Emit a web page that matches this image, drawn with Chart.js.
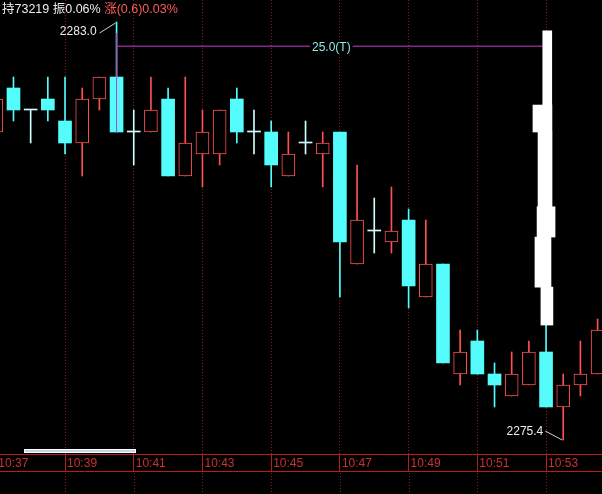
<!DOCTYPE html>
<html><head><meta charset="utf-8">
<script src="https://cdn.jsdelivr.net/npm/chart.js@4"></script>
<style>
html,body{margin:0;padding:0;background:#000;}
#wrap{position:relative;width:602px;height:494px;overflow:hidden;background:#000;}
#hdr{position:absolute;left:2px;top:1px;font:12.5px "Liberation Sans","Noto Sans CJK SC",sans-serif;color:#ececec;white-space:pre;line-height:16px;}
#hdr span{color:#ff5a5a;}
</style></head><body>
<div id="wrap"><canvas id="c" width="602" height="494"></canvas>
<div id="hdr">持73219 振0.06% <span>涨(0.6)0.03%</span></div>
</div>
<script>
// ---- data ----
const tickBars   = [0, 4, 8, 12, 16, 20, 24, 28, 32];
const tickLabels = ['10:37','10:39','10:41','10:43','10:45','10:47','10:49','10:51','10:53'];
const opens  = [2281.0,2281.8,2281.4,2281.6,2281.2,2280.8,2281.6,2282.0,2281.0,2281.0,2281.6,2280.2,2280.6,2280.6,2281.6,2281.0,2281.0,2280.2,2280.8,2280.6,2281.0,2278.6,2279.2,2279.0,2279.4,2278.0,2278.6,2276.6,2277.2,2276.6,2276.2,2276.4,2277.0,2276.0,2276.4,2276.6];
const highs  = [2281.6,2282.0,2281.4,2282.0,2282.0,2281.8,2282.0,2283.0,2281.4,2282.0,2281.8,2282.0,2281.4,2281.4,2281.8,2281.4,2281.2,2281.0,2281.2,2281.0,2281.0,2280.4,2279.8,2280.0,2279.6,2279.4,2278.6,2277.4,2277.4,2276.8,2277.0,2277.2,2277.6,2276.6,2277.2,2277.6];
const lows   = [2281.0,2281.2,2280.8,2281.2,2280.6,2280.2,2281.4,2281.0,2280.4,2281.0,2280.2,2280.2,2280.0,2280.4,2280.8,2280.6,2280.0,2280.2,2280.6,2280.0,2278.0,2278.6,2278.8,2278.8,2277.8,2278.0,2276.8,2276.4,2276.6,2276.0,2276.2,2276.4,2276.0,2275.4,2276.2,2276.6];
const closes = [2281.6,2281.4,2281.4,2281.4,2280.8,2281.6,2282.0,2281.0,2281.0,2281.4,2280.2,2280.8,2281.0,2281.4,2281.0,2281.0,2280.4,2280.6,2280.8,2280.8,2279.0,2279.4,2279.2,2279.2,2278.2,2278.6,2276.8,2277.0,2276.6,2276.4,2276.6,2277.0,2276.0,2276.4,2276.6,2277.4];
// measuring tool (bar span, level, text)
const measureBars  = [7, 32];
const measureLevel = 2282.56;
const measureTop   = 2282.8;
const measureText  = '25.0(T)';
// white freehand mark near the last measured bar
const markX     = [32.07, 31.79, 31.94, 32.0, 31.82, 32.05];
const markFrom  = [2281.49, 2281.0, 2279.64, 2279.09, 2278.18, 2277.49];
const markTo    = [2282.84, 2281.49, 2281.0, 2279.64, 2279.09, 2278.18];
const markWidth = [9, 19, 14, 18, 16, 12];

// ---- colours ----
const CYAN = '#54fcfc', RED = '#ff5050', DOJI = '#d0ffff';
const idx = opens.map((_, i) => i);
const upBodies   = idx.filter(i => closes[i] > opens[i]).map(i => ({x: i, y: [opens[i], closes[i]]}));
const downBodies = idx.filter(i => closes[i] < opens[i]).map(i => ({x: i, y: [closes[i], opens[i]]}));
const dojiBodies = idx.filter(i => closes[i] === opens[i]).map(i => ({x: i, y: [opens[i], closes[i]]}));
const wicks = idx.map(i => ({x: i, y: [lows[i], highs[i]]}));
const wickColors = idx.map(i => closes[i] > opens[i] ? RED : (closes[i] < opens[i] ? CYAN : DOJI));

const hiVal = Math.max(...highs), hiBar = highs.indexOf(hiVal);
const loVal = Math.min(...lows),  loBar = lows.indexOf(loVal);

const datasets = [
  {type:'bar', data: wicks, backgroundColor: wickColors, barThickness: 1, grouped:false, order: 5},
  {type:'bar', data: upBodies, backgroundColor:'#000', borderColor: RED, borderWidth: 1, borderSkipped:false, barThickness: 13, grouped:false, order: 4},
  {type:'bar', data: downBodies, backgroundColor: CYAN, borderWidth: 0, barThickness: 13, grouped:false, order: 4},
  {type:'bar', data: dojiBodies, backgroundColor: DOJI, borderWidth: 0, barThickness: 13, minBarLength: 1, grouped:false, order: 4},
  {type:'line', data: [{x: measureBars[0], y: lows[measureBars[0]]}, {x: measureBars[0], y: measureTop}], borderColor:'#c83cc8', borderWidth:1, pointRadius:0, order: 2},
  {type:'line', data: [{x: measureBars[0], y: measureLevel}, {x: measureBars[1], y: measureLevel}], borderColor:'#c83cc8', borderWidth:1, pointRadius:0, order: 2}
];
markX.forEach((x, k) => datasets.push({type:'bar', data:[{x: x, y:[markFrom[k], markTo[k]]}], backgroundColor:'#ffffff', borderWidth:0, barThickness: markWidth[k], grouped:false, order: 1}));

const deco = {
  id: 'deco',
  afterDatasetsDraw(chart) {
    const {ctx, chartArea, scales:{x, y}} = chart;
    ctx.save();
    ctx.font = '12px "Liberation Sans", Arial, sans-serif';
    // measure label
    const mx = x.getPixelForValue((measureBars[0] + measureBars[1]) / 2);
    const my = y.getPixelForValue(measureLevel);
    const tw = ctx.measureText(measureText).width;
    ctx.fillStyle = '#000';
    ctx.fillRect(mx - tw/2 - 2, my - 6, tw + 4, 12);
    ctx.fillStyle = '#8ee6e6';
    ctx.textAlign = 'center'; ctx.textBaseline = 'middle';
    ctx.fillText(measureText, mx, my + 1);
    // high label
    ctx.strokeStyle = '#d0d0d0'; ctx.lineWidth = 1;
    let hx = x.getPixelForValue(hiBar), hy = y.getPixelForValue(hiVal);
    ctx.beginPath(); ctx.moveTo(hx - 1, hy + 1); ctx.lineTo(hx - 17, hy + 11); ctx.stroke();
    ctx.fillStyle = '#ececec'; ctx.textAlign = 'right';
    ctx.fillText(hiVal.toFixed(1), hx - 20, hy + 10);
    // low label
    let lx = x.getPixelForValue(loBar), ly = y.getPixelForValue(loVal);
    ctx.beginPath(); ctx.moveTo(lx - 1, ly); ctx.lineTo(lx - 18, ly - 9); ctx.stroke();
    ctx.fillText(loVal.toFixed(1), lx - 20, ly - 8);
    ctx.restore();
  },
  afterDraw(chart) {
    const {ctx, chartArea, scales:{x}} = chart;
    const b = chartArea.bottom;
    ctx.save();
    ctx.strokeStyle = '#b81c1c'; ctx.lineWidth = 1;
    ctx.beginPath();
    ctx.moveTo(0, b + 0.5); ctx.lineTo(602, b + 0.5);
    ctx.moveTo(0, b + 17.5); ctx.lineTo(602, b + 17.5);
    ctx.stroke();
    ctx.strokeStyle = '#8a1c1c'; ctx.setLineDash([1, 2]);
    ctx.beginPath();
    tickBars.forEach(v => { const px = Math.round(x.getPixelForValue(v)) + 0.5; ctx.moveTo(px, b + 19); ctx.lineTo(px, 494); });
    ctx.stroke();
    ctx.setLineDash([]);
    // scroll thumb
    ctx.fillStyle = '#c8d2e6'; ctx.fillRect(24, b - 4, 112, 3);
    ctx.strokeStyle = '#ffffff'; ctx.strokeRect(24.5, b - 4.5, 111, 3);
    ctx.restore();
  }
};

new Chart(document.getElementById('c'), {
  data: { datasets },
  options: {
    responsive: false, animation: false,
    layout: { padding: 0 },
    plugins: { legend: {display:false}, tooltip: {enabled:false} },
    scales: {
      x: {
        type: 'linear', position: 'bottom', offset: false,
        min: 0.2154, max: 35.256,
        afterBuildTicks: s => { s.ticks = tickBars.map(v => ({value: v})); },
        afterFit: s => { s.height = 40; },
        ticks: {
          autoSkip: false, maxRotation: 0, align: 'start', labelOffset: 2, padding: -15,
          color: '#c83232', font: {family: '"Liberation Sans", Arial, sans-serif', size: 12},
          callback: v => tickLabels[tickBars.indexOf(v)]
        },
        grid: { offset: false, color: '#8a1c1c', tickColor: '#b81c1c', tickLength: 17, drawTicks: true, lineWidth: 1 },
        border: { display: false, dash: [1, 2] }
      },
      y: {
        type: 'linear', display: false,
        min: 2275.1455, max: 2283.4
      }
    }
  },
  plugins: [deco]
});
</script>
</body></html>
